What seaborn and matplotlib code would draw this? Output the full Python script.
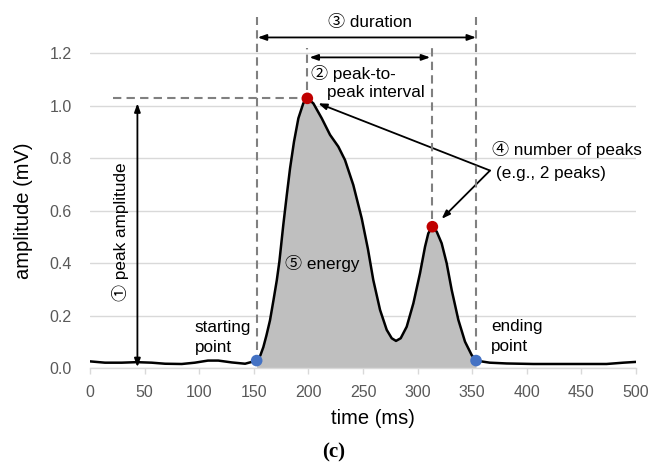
import numpy as np
import pandas as pd
import seaborn as sns
import matplotlib
matplotlib.use("Agg")
import matplotlib.pyplot as plt

# Signal samples: time (ms) and amplitude (mV)
time_ms = [0, 13.7, 29, 42.7, 56.5, 68.7, 84, 96, 108, 117.5, 129.7, 142,
           152.6, 156, 158.7, 161.5, 164.8, 168, 171, 173.4, 177, 180.2,
           183.2, 186.8, 190.8, 195.3, 199, 204.5, 212.2, 219.8, 227.4,
           233.5, 241.1, 248.8, 254.5, 259.4, 265.6, 271.7, 276.3, 280.2,
           284.5, 290, 296.1, 302.2, 306.8, 309.8, 313.5, 317.5, 322, 326.6,
           331.2, 337.3, 343.4, 349.5, 353.5,
           366, 381.6, 406, 433.4, 473, 488.4, 500]
amplitude_mv = [0.027, 0.022, 0.022, 0.024, 0.022, 0.018, 0.017, 0.022, 0.030,
                0.030, 0.023, 0.018,
                0.030, 0.050, 0.081, 0.125, 0.183, 0.260, 0.335, 0.407, 0.547,
                0.661, 0.763, 0.864, 0.953, 1.010, 1.029, 1.010, 0.953, 0.890,
                0.845, 0.794, 0.699, 0.572, 0.455, 0.337, 0.223, 0.147, 0.115,
                0.105, 0.115, 0.159, 0.248, 0.363, 0.464, 0.515, 0.540, 0.521,
                0.477, 0.401, 0.299, 0.185, 0.102, 0.051, 0.030,
                0.022, 0.019, 0.017, 0.017, 0.017, 0.022, 0.025]

# Detected features
start_ms, start_mv = 152.6, 0.030
end_ms, end_mv = 353.5, 0.030
peak_ms = [199, 313.5]
peak_mv = [1.029, 0.540]

x_ticks = [0, 50, 100, 150, 200, 250, 300, 350, 400, 450, 500]
y_ticks = [0.0, 0.2, 0.4, 0.6, 0.8, 1.0, 1.2]

sns.set_theme(style="white")
plt.rcParams["font.family"] = ["Liberation Sans", "Noto Sans CJK JP"]
plt.rcParams["text.color"] = "black"
ann_font = ["Liberation Sans", "Noto Sans CJK JP"]
ann_size = 12.3

fig = plt.figure(figsize=(6.49, 4.68), dpi=100)
ax = fig.add_axes([0.1387, 0.2127, 0.8413, 0.7572])

df = pd.DataFrame({"time": time_ms, "amp": amplitude_mv})

# shaded energy region between start and end points
t = np.array(time_ms)
a = np.array(amplitude_mv)
mask = (t >= start_ms) & (t <= end_ms)
ax.fill_between(t[mask], 0, a[mask], color="#bfbfbf", lw=0, zorder=2)

sns.lineplot(data=df, x="time", y="amp", ax=ax, color="black", lw=1.8,
             zorder=3)

sns.scatterplot(x=[start_ms, end_ms], y=[start_mv, end_mv], ax=ax,
                color="#4472c4", s=70, edgecolor="none", zorder=5)
sns.scatterplot(x=peak_ms, y=peak_mv, ax=ax, color="#c00000", s=70,
                edgecolor="none", zorder=5)

ax.set_xlim(0, 500)
ax.set_ylim(0, 1.35)
ax.set_xticks(x_ticks)
ax.set_yticks(y_ticks)
ax.set_yticklabels([f"{v:.1f}" for v in y_ticks])
ax.grid(axis="y", color="#d9d9d9", lw=1.0)
ax.set_axisbelow(True)
for side in ["top", "right", "left"]:
    ax.spines[side].set_visible(False)
ax.spines["bottom"].set_color("#d9d9d9")
ax.spines["bottom"].set_linewidth(1.0)
ax.tick_params(axis="x", which="major", bottom=True, length=4, width=1,
               color="#d9d9d9", pad=8, labelsize=11.5, labelcolor="#595959")
ax.tick_params(axis="y", left=False, length=0, pad=13, labelsize=11.5,
               labelcolor="#595959")

ax.set_xlabel("time (ms)", fontsize=14.5, color="black")
ax.set_ylabel("amplitude (mV)", fontsize=14.5, color="black")
ax.xaxis.set_label_coords(0.518, -0.115)
ax.yaxis.set_label_coords(-0.104, 0.446)

dash_kw = dict(color="#808080", lw=1.5, ls=(0, (4, 2.5)), clip_on=False,
               zorder=4)
# vertical markers at start, end and both peaks
ax.plot([start_ms, start_ms], [0.07, 1.34], **dash_kw)
ax.plot([end_ms, end_ms], [0.07, 1.34], **dash_kw)
ax.plot([peak_ms[0], peak_ms[0]], [1.06, 1.22], **dash_kw)
ax.plot([peak_ms[1], peak_ms[1]], [0.57, 1.22], **dash_kw)
# peak level guide
ax.plot([21, peak_ms[0] - 3], [peak_mv[0], peak_mv[0]], **dash_kw)

arrow2 = dict(arrowstyle="<|-|>,head_length=0.5,head_width=0.18",
              color="black", lw=1.3, shrinkA=0, shrinkB=0,
              mutation_scale=10)
arrow1 = dict(arrowstyle="-|>,head_length=0.5,head_width=0.18",
              color="black", lw=1.3, shrinkA=0, shrinkB=0,
              mutation_scale=10)

# duration
ax.annotate("", xy=(start_ms + 1, 1.261), xytext=(end_ms, 1.261),
            arrowprops=arrow2, annotation_clip=False)
ax.text(256, 1.319, "③ duration", ha="center", va="center",
        fontsize=ann_size, family=ann_font, clip_on=False)

# peak-to-peak interval
ax.annotate("", xy=(peak_ms[0] + 2, 1.185), xytext=(peak_ms[1] - 2, 1.185),
            arrowprops=arrow2, annotation_clip=False)
ax.text(202, 1.125, "② peak-to-", ha="left", va="center", fontsize=ann_size,
        family=ann_font)
ax.text(217, 1.05, "peak interval", ha="left", va="center",
        fontsize=ann_size, family=ann_font)

# peak amplitude
ax.annotate("", xy=(43.4, 1.01), xytext=(43.4, 0.005), arrowprops=arrow2,
            annotation_clip=False)
ax.text(27.5, 0.52, "① peak amplitude", rotation=90, ha="center",
        va="center", fontsize=ann_size, family=ann_font)

# number of peaks
ax.annotate("", xy=(209, 1.01), xytext=(366.3, 0.754), arrowprops=arrow1)
ax.annotate("", xy=(322, 0.57), xytext=(366.3, 0.754), arrowprops=arrow1)
ax.text(368, 0.835, "④ number of peaks", ha="left", va="center",
        fontsize=ann_size, family=ann_font, clip_on=False)
ax.text(372, 0.743, "(e.g., 2 peaks)", ha="left", va="center",
        fontsize=ann_size, family=ann_font, clip_on=False)

# energy
ax.text(178.5, 0.40, "⑤ energy", ha="left", va="center", fontsize=ann_size,
        family=ann_font, zorder=6)

ax.text(96, 0.156, "starting", ha="left", va="center", fontsize=ann_size,
        family=ann_font)
ax.text(96, 0.08, "point", ha="left", va="center", fontsize=ann_size,
        family=ann_font)
ax.text(367, 0.16, "ending", ha="left", va="center", fontsize=ann_size,
        family=ann_font)
ax.text(367, 0.084, "point", ha="left", va="center", fontsize=ann_size,
        family=ann_font)

fig.text(334 / 649, 1 - 452 / 468, "(c)", ha="center", va="center",
         fontsize=15, fontweight="bold", family="Liberation Serif")

fig.savefig("out.png", dpi=100)
